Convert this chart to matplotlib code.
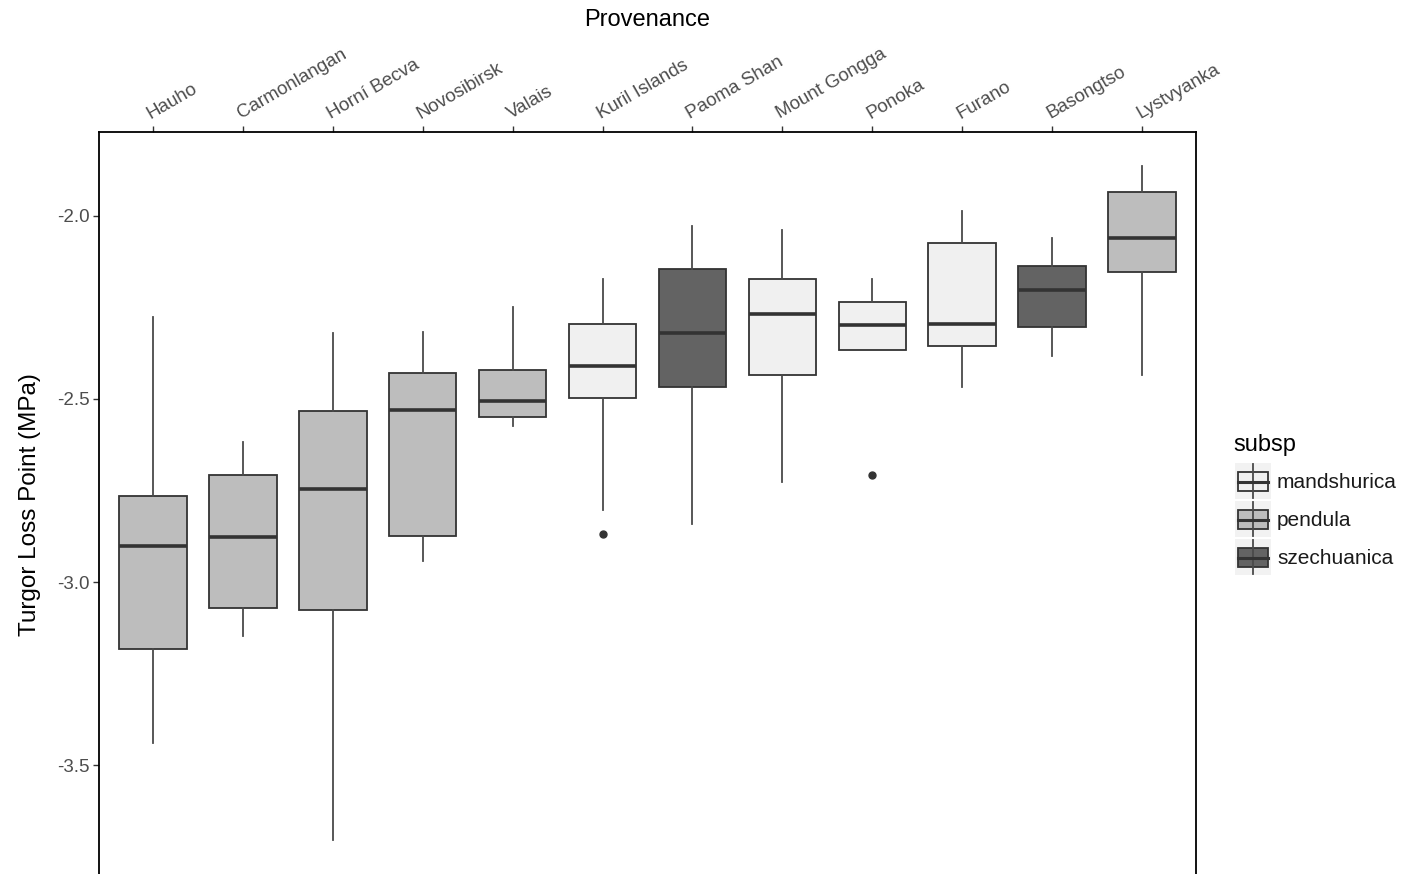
import numpy as np
import matplotlib
matplotlib.use('Agg')
import matplotlib.pyplot as plt
from matplotlib.patches import Rectangle

plt.rcParams['font.family'] = ['Liberation Sans', 'DejaVu Sans']

# data
provenance = ['Hauho', 'Carmonlangan', 'Horní Becva', 'Novosibirsk', 'Valais', 'Kuril Islands',
              'Paoma Shan', 'Mount Gongga', 'Ponoka', 'Furano', 'Basongtso', 'Lystvyanka']
subsp = ['pendula', 'pendula', 'pendula', 'pendula', 'pendula', 'mandshurica',
         'szechuanica', 'mandshurica', 'mandshurica', 'mandshurica', 'szechuanica', 'pendula']
whisker_low = [-3.440, -3.148, -3.705, -2.943, -2.574, -2.804, -2.840, -2.727, -2.366, -2.467, -2.382, -2.435]
q1 = [-3.183, -3.071, -3.076, -2.873, -2.549, -2.497, -2.466, -2.434, -2.366, -2.354, -2.304, -2.152]
median = [-2.902, -2.876, -2.745, -2.530, -2.506, -2.409, -2.319, -2.269, -2.297, -2.294, -2.203, -2.060]
q3 = [-2.766, -2.707, -2.533, -2.430, -2.421, -2.295, -2.146, -2.173, -2.236, -2.074, -2.138, -1.936]
whisker_high = [-2.275, -2.617, -2.321, -2.316, -2.248, -2.173, -2.029, -2.038, -2.173, -1.988, -2.061, -1.863]
outliers = [[], [], [], [], [], [-2.870], [], [], [-2.708], [], [], []]

subsp_levels = ['mandshurica', 'pendula', 'szechuanica']
fill_colors = {'mandshurica': '#F0F0F0', 'pendula': '#BDBDBD', 'szechuanica': '#636363'}
edge = '#333333'

fig = plt.figure(figsize=(14.01, 8.74), dpi=100)
ax = fig.add_axes([99 / 1401, 0, 1097 / 1401, 742 / 874])

stats = []
for i in range(len(provenance)):
    stats.append(dict(label=provenance[i], whislo=whisker_low[i], q1=q1[i], med=median[i],
                      q3=q3[i], whishi=whisker_high[i], fliers=outliers[i]))

bp = ax.bxp(stats, positions=np.arange(1, len(provenance) + 1), widths=0.75,
            patch_artist=True, showcaps=False,
            boxprops=dict(edgecolor=edge, linewidth=1.3),
            medianprops=dict(color=edge, linewidth=2.6, solid_capstyle='butt'),
            whiskerprops=dict(color='#4a4a4a', linewidth=1.3),
            flierprops=dict(marker='o', markerfacecolor=edge, markeredgecolor=edge, markersize=5))
for patch, s in zip(bp['boxes'], subsp):
    patch.set_facecolor(fill_colors[s])

ax.set_xlim(0.4, 12.6)
ax.set_ylim(-3.797, -1.771)

ax.xaxis.tick_top()
ax.set_xticks(np.arange(1, len(provenance) + 1))
ax.set_xticklabels(provenance, rotation=30, ha='left', va='bottom', rotation_mode='anchor')
yticks = [-3.5, -3.0, -2.5, -2.0]
ax.set_yticks(yticks)
ax.set_yticklabels([f'{v:.1f}' for v in yticks])
ax.tick_params(axis='both', length=4, width=1, color=edge, labelcolor='#4D4D4D', labelsize=13.5)
ax.tick_params(axis='x', pad=3)
ax.tick_params(axis='y', pad=3)
for lbl in ax.get_xticklabels():
    lbl.set_x(lbl.get_position()[0])

ax.spines['bottom'].set_visible(False)
for side in ['top', 'left', 'right']:
    ax.spines[side].set_color('black')
    ax.spines[side].set_linewidth(1.3)

fig.text(647 / 1401, 1 - 20 / 874, 'Provenance', ha='center', va='center', fontsize=17)
fig.text(30 / 1401, 1 - 505 / 874, 'Turgor Loss Point (MPa)', ha='center', va='center',
         rotation=90, fontsize=17.5)

# legend
fig.text(1233 / 1401, 1 - 445 / 874, 'subsp', ha='left', va='center', fontsize=17)
lax = fig.add_axes([1230 / 1401, 1 - 580 / 874, 171 / 1401, 125 / 874])
lax.set_xlim(1230, 1401)
lax.set_ylim(580, 455)
lax.axis('off')
for i, s in enumerate(subsp_levels):
    y0 = 463 + 38 * i
    lax.add_patch(Rectangle((1235, y0), 36, 36, facecolor='#F2F2F2', edgecolor='none'))
    lax.plot([1253, 1253], [y0 + 1, y0 + 35], color='#4a4a4a', lw=1.3)
    lax.add_patch(Rectangle((1238, y0 + 9), 30, 19, facecolor=fill_colors[s], edgecolor=edge, lw=1.3))
    lax.plot([1238, 1268], [y0 + 18.5, y0 + 18.5], color=edge, lw=2.2)
    lax.text(1277, y0 + 19, s, ha='left', va='center', fontsize=15, color='#1a1a1a')

fig.savefig('out.png', dpi=100)
